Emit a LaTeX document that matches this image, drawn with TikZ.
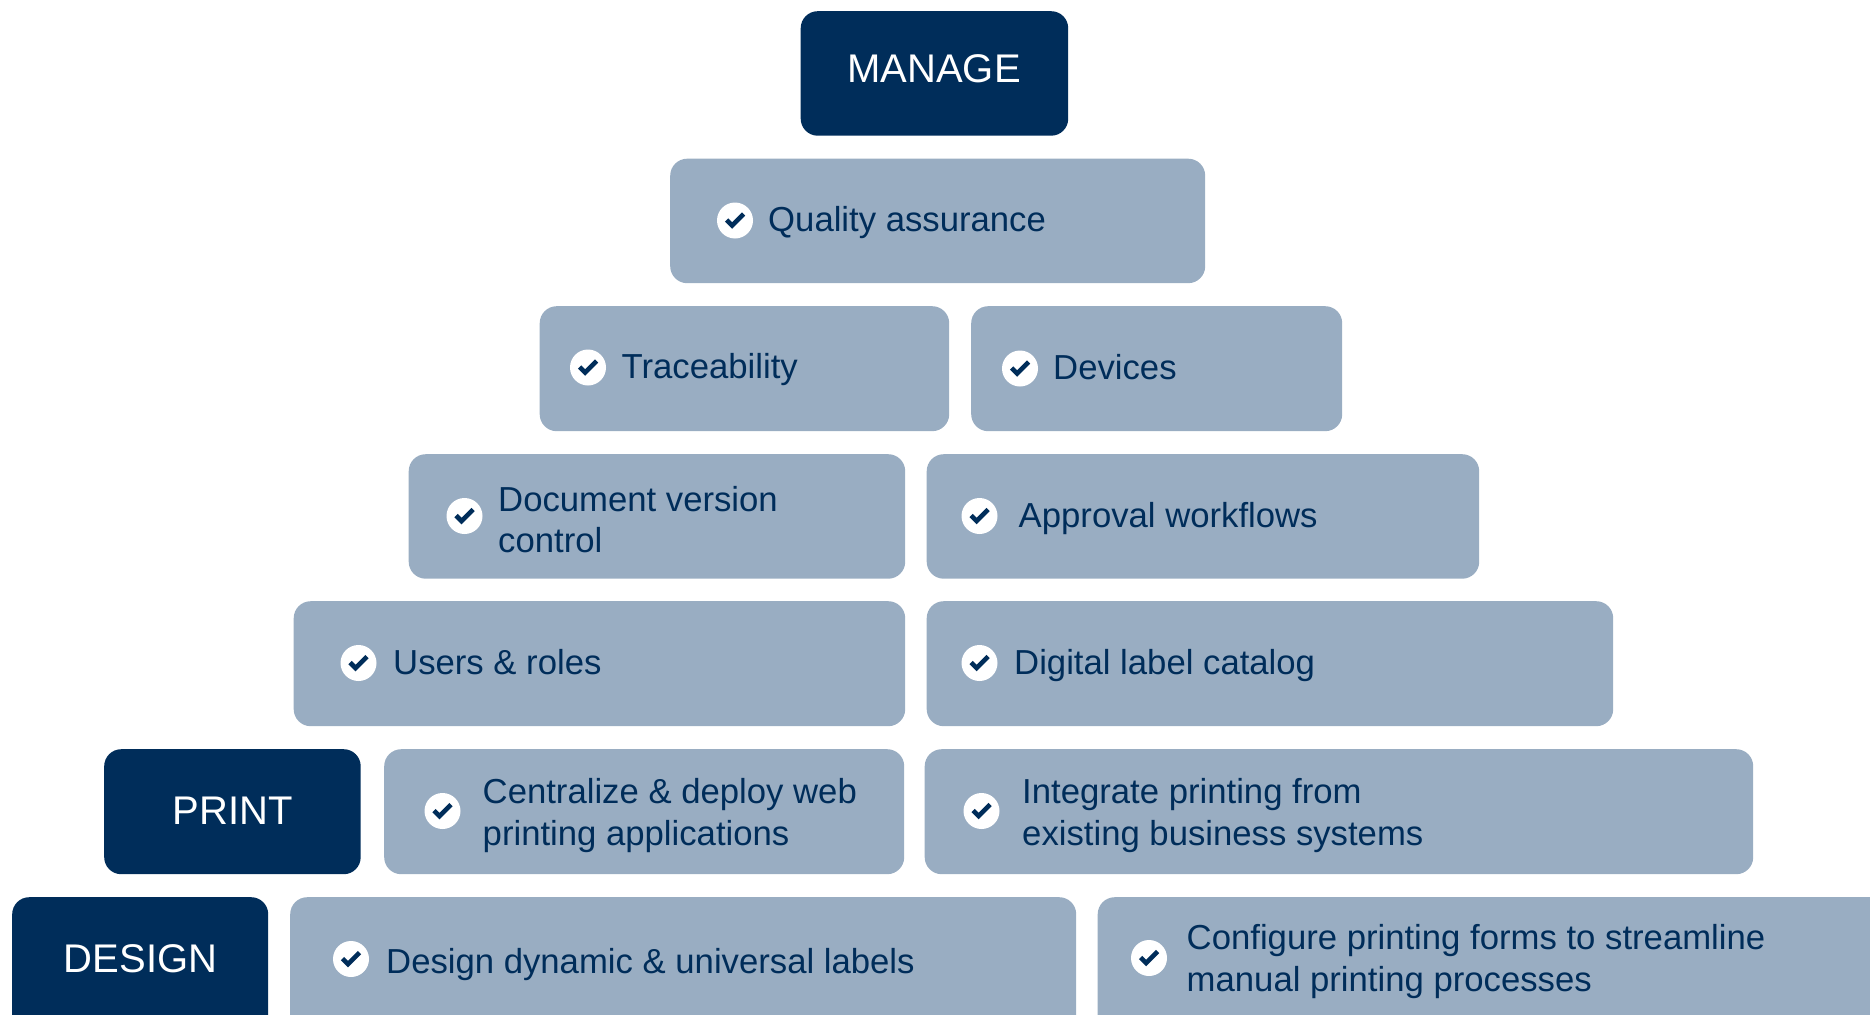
\documentclass[tikz,border=0pt]{standalone}
\usepackage{fontspec}
\setmainfont{Liberation Sans}
\definecolor{navy}{HTML}{002D5A}
\definecolor{slate}{HTML}{99ADC2}
\tikzset{
  x=1pt,y=-1pt,
  tile/.style={fill=slate,draw=none,rounded corners=17pt,inner sep=0pt,anchor=north west},
  head/.style={fill=navy,draw=none,rounded corners=17pt,inner sep=0pt,anchor=north west},
  headtext/.style={text=white,font=\fontsize{40}{48}\selectfont,anchor=base,inner sep=0pt},
  label/.style={text=navy,font=\fontsize{34.7}{41.6}\selectfont,anchor=base west,inner sep=0pt,align=left},
  tick/.style={fill=white,draw=none,circle,minimum size=36pt,inner sep=0pt},
  tickmark/.style={draw=navy,line width=4.6pt,miter limit=10}
}
% name, x1, y1, x2, y2
\newcommand{\tilebox}[6][tile]{%
  \pgfmathsetmacro{\boxw}{#5-#3}\pgfmathsetmacro{\boxh}{#6-#4}%
  \node[#1,minimum width=\boxw pt,minimum height=\boxh pt] (#2) at (#3,#4) {};}
% name, cx, cy, tx, ty, text
\newcommand{\checkitem}[6]{%
  \node[tick] (#1c) at (#2,#3) {};
  \draw[tickmark] ([shift={(-8.5,-0.5)}]#1c.center) -- ([shift={(-3,5)}]#1c.center) -- ([shift={(8.5,-6.5)}]#1c.center);
  \node[label] (#1t) at (#4,#5) {#6};}
\begin{document}
\begin{tikzpicture}
\path[use as bounding box,clip] (0,0) rectangle (1870,1014);
\tilebox[head]{manage}{800.5}{11}{1068}{135.5}
\tilebox{quality}{670}{158.5}{1205}{283}
\tilebox{trace}{539.5}{306}{949}{431}
\tilebox{devices}{971}{306}{1342}{431}
\tilebox{doc}{408.5}{454}{905}{578.5}
\tilebox{approval}{926.5}{454}{1479}{578.5}
\tilebox{users}{293.5}{601}{905}{726}
\tilebox{digital}{926.5}{601}{1613}{726}
\tilebox[head]{print}{104}{749}{360.5}{874}
\tilebox{central}{384}{749}{904}{874}
\tilebox{integrate}{924.5}{749}{1753}{874}
\tilebox[head]{design}{12}{897}{268}{1040}
\tilebox{dyn}{290}{897}{1076}{1040}
\tilebox{config}{1097.5}{897}{1900}{1040}
\node[headtext] (managet) at (934,83) {MANAGE};
\node[headtext] (printt) at (232.5,824) {PRINT};
\node[headtext] (designt) at (140.5,972) {DESIGN};
\checkitem{a}{735}{220.5}{768}{231}{Quality assurance}
\checkitem{b}{588}{367.5}{621.5}{378}{Traceability}
\checkitem{c}{1020}{368.5}{1053}{379}{Devices}
\checkitem{d}{464.5}{516}{498}{552}{Document version\\[-1pt]control}
\checkitem{e}{979.5}{516}{1018.5}{527}{Approval workflows}
\checkitem{f}{358.5}{663}{393}{674}{Users \& roles}
\checkitem{g}{979.5}{663}{1014}{674}{Digital label catalog}
\checkitem{h}{442.5}{811}{482.5}{845}{Centralize \& deploy web\\printing applications}
\checkitem{i}{981.5}{811}{1022}{845}{Integrate printing from\\existing business systems}
\checkitem{j}{351}{959}{386}{973}{Design dynamic \& universal labels}
\checkitem{k}{1149}{958}{1186.5}{991}{Configure printing forms to streamline\\manual printing processes}
\end{tikzpicture}
\end{document}
